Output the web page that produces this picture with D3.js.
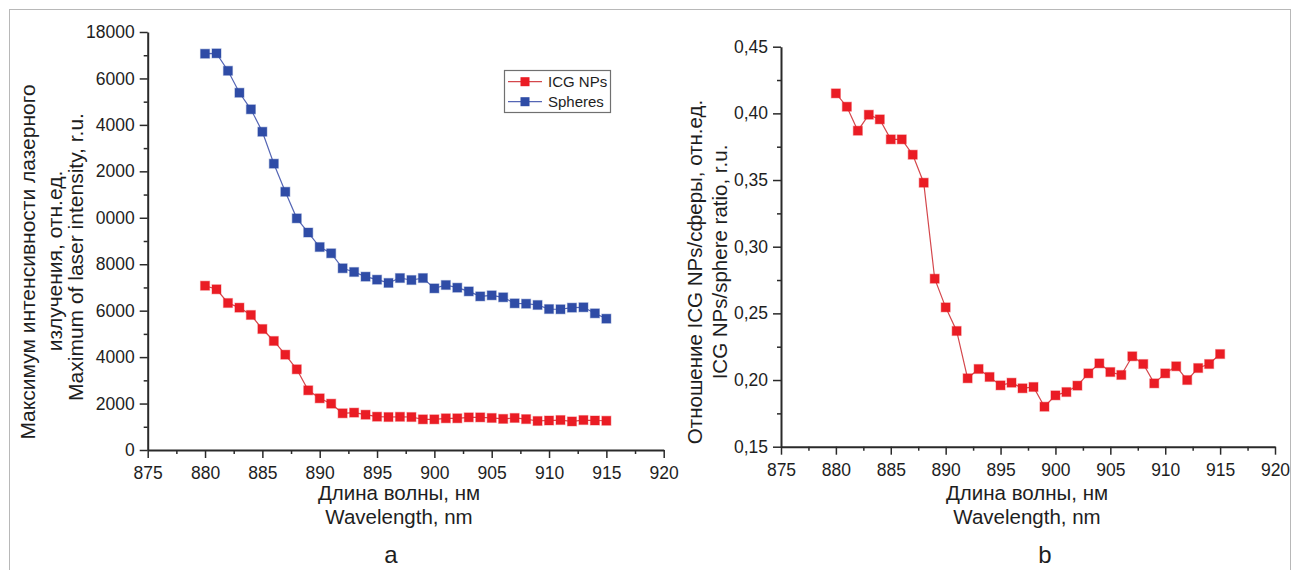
<!DOCTYPE html>
<html>
<head>
<meta charset="utf-8">
<script src="https://cdn.jsdelivr.net/npm/d3@7"></script>
<style>
  html, body { margin: 0; padding: 0; background: #fff; }
  svg { display: block; }
  text { font-family: "Liberation Sans", Arial, sans-serif; fill: #1e1e1e; }
</style>
</head>
<body>
<svg id="fig" width="1296" height="570"></svg>
<script>
// Wavelength grid, nm
const wavelengths = d3.range(880, 916);

// Panel a: maximum of laser intensity, r.u.
const icgNPs = [7075, 6920, 6330, 6130, 5815, 5210, 4695, 4105, 3475, 2570,
  2225, 1995, 1580, 1610, 1520, 1435, 1420, 1430, 1420, 1320,
  1320, 1365, 1365, 1405, 1405, 1380, 1340, 1380, 1330, 1250,
  1270, 1290, 1230, 1290, 1270, 1260];
const spheres = [17065, 17080, 16330, 15385, 14670, 13705, 12330, 11120, 9975, 9365,
  8740, 8470, 7825, 7665, 7465, 7335, 7195, 7405, 7320, 7405,
  6960, 7105, 6990, 6830, 6615, 6660, 6575, 6315, 6300, 6245,
  6070, 6060, 6130, 6145, 5885, 5655];

// Panel b: ICG NPs / sphere ratio, r.u.
const ratio = [0.415, 0.405, 0.387, 0.399, 0.3955, 0.3805, 0.3805, 0.369, 0.348, 0.276,
  0.2545, 0.2368, 0.2013, 0.2083, 0.2023, 0.196, 0.198, 0.1938, 0.1948, 0.180,
  0.1885, 0.191, 0.1958, 0.205, 0.2125, 0.206, 0.2038, 0.2178, 0.212, 0.1975,
  0.205, 0.2103, 0.200, 0.209, 0.212, 0.2195];

// Tick values and their printed labels
const xTicks = [875, 880, 885, 890, 895, 900, 905, 910, 915, 920];
const xTickLabels = ["875", "880", "885", "890", "895", "900", "905", "910", "915", "920"];
const yTicksA = [0, 2000, 4000, 6000, 8000, 10000, 12000, 14000, 16000, 18000];
const yTickLabelsA = ["0", "2000", "4000", "6000", "8000", "0000", "2000", "4000", "6000", "18000"];
const yTicksB = [0.15, 0.20, 0.25, 0.30, 0.35, 0.40, 0.45];
const yTickLabelsB = ["0,15", "0,20", "0,25", "0,30", "0,35", "0,40", "0,45"];

const seriesNames = ["ICG NPs", "Spheres"];
const RED = "#ea1c24", RED_LINE = "#d4474c";
const BLUE = "#2f4ca6", BLUE_LINE = "#5566b5";
const AXIS = "#2a2a2a";

const svg = d3.select("#fig");

// outer frame
svg.append("rect").attr("x", 9.5).attr("y", 9.5).attr("width", 1281).attr("height", 600)
  .attr("fill", "none").attr("stroke", "#b8b8b8").attr("stroke-width", 1);

function drawAxes(g, x, y, yTicks, yLabels, minorY) {
  const minorX = d3.range(877.5, 920, 5);
  // minor ticks
  g.append("g").attr("transform", `translate(0,${y.range()[0]})`)
    .call(d3.axisBottom(x).tickValues(minorX).tickSize(4).tickSizeOuter(0).tickFormat(""))
    .call(s => s.select(".domain").remove())
    .call(s => s.selectAll("line").attr("stroke", AXIS).attr("stroke-width", 1.5));
  g.append("g").attr("transform", `translate(${x.range()[0]},0)`)
    .call(d3.axisLeft(y).tickValues(minorY).tickSize(4).tickSizeOuter(0).tickFormat(""))
    .call(s => s.select(".domain").remove())
    .call(s => s.selectAll("line").attr("stroke", AXIS).attr("stroke-width", 1.5));
  // major ticks + labels
  const gx = g.append("g").attr("transform", `translate(0,${y.range()[0]})`)
    .call(d3.axisBottom(x).tickValues(xTicks).tickSize(8).tickSizeOuter(0).tickPadding(9)
      .tickFormat((d, i) => xTickLabels[i]));
  const gy = g.append("g").attr("transform", `translate(${x.range()[0]},0)`)
    .call(d3.axisLeft(y).tickValues(yTicks).tickSize(8).tickSizeOuter(0).tickPadding(5)
      .tickFormat((d, i) => yLabels[i]));
  [gx, gy].forEach(a => {
    a.select(".domain").attr("stroke", AXIS).attr("stroke-width", 2);
    a.selectAll(".tick line").attr("stroke", AXIS).attr("stroke-width", 1.5);
    a.selectAll(".tick text").attr("font-size", 17.5).attr("fill", "#1e1e1e")
      .style("font-family", "'Liberation Sans', Arial, sans-serif");
  });
}

function drawSeries(g, x, y, values, lineColor, markColor) {
  const line = d3.line().x((d, i) => x(wavelengths[i])).y(d => y(d));
  g.append("path").datum(values).attr("d", line)
    .attr("fill", "none").attr("stroke", lineColor).attr("stroke-width", 1.2);
  const s = 9;
  g.selectAll(null).data(values).join("rect")
    .attr("x", (d, i) => x(wavelengths[i]) - s / 2)
    .attr("y", d => y(d) - s / 2)
    .attr("width", s).attr("height", s)
    .attr("fill", markColor)
    .attr("stroke", markColor).attr("stroke-opacity", 0.35).attr("stroke-width", 1.2);
}

function vTitle(text, x, yc, size) {
  svg.append("text").attr("transform", `translate(${x},${yc}) rotate(-90)`)
    .attr("text-anchor", "middle").attr("font-size", size).text(text);
}
function hTitle(text, xc, y, size) {
  svg.append("text").attr("x", xc).attr("y", y)
    .attr("text-anchor", "middle").attr("font-size", size).text(text);
}

// ---------- panel a ----------
const xA = d3.scaleLinear().domain([875, 920]).range([147.7, 663.7]);
const yA = d3.scaleLinear().domain([0, 18000]).range([450, 32]);
const gA = svg.append("g");
drawAxes(gA, xA, yA, yTicksA, yTickLabelsA, d3.range(1000, 18000, 2000));
drawSeries(gA, xA, yA, spheres, BLUE_LINE, BLUE);
drawSeries(gA, xA, yA, icgNPs, RED_LINE, RED);

vTitle("Максимум интенсивности лазерного", 35, 262, 21);
vTitle("излучения, отн.ед.", 62, 261, 21);
vTitle("Maximum of laser intensity, r.u.", 83, 257, 21);
hTitle("Длина волны, нм", 399, 500, 20.5);
hTitle("Wavelength, nm", 399, 524, 20.5);
hTitle("a", 391, 563, 24);

// legend
const leg = svg.append("g");
leg.append("rect").attr("x", 504.5).attr("y", 70.5).attr("width", 106).attr("height", 42)
  .attr("fill", "#fff").attr("stroke", "#707070").attr("stroke-width", 1.2);
[[RED_LINE, RED], [BLUE_LINE, BLUE]].forEach(([lc, mc], i) => {
  const cy = 81.7 + i * 20;
  leg.append("line").attr("x1", 508).attr("x2", 542).attr("y1", cy).attr("y2", cy)
    .attr("stroke", lc).attr("stroke-width", 1.2);
  leg.append("rect").attr("x", 525 - 4.5).attr("y", cy - 4.5).attr("width", 9).attr("height", 9)
    .attr("fill", mc);
  leg.append("text").attr("x", 548).attr("y", cy + 5.5).attr("font-size", 15)
    .text(seriesNames[i]);
});

// ---------- panel b ----------
const xB = d3.scaleLinear().domain([875, 920]).range([781, 1275]);
const yB = d3.scaleLinear().domain([0.15, 0.45]).range([446.7, 46.7]);
const gB = svg.append("g");
drawAxes(gB, xB, yB, yTicksB, yTickLabelsB, d3.range(0.175, 0.45, 0.05));
drawSeries(gB, xB, yB, ratio, RED_LINE, RED);

vTitle("Отношение ICG NPs/сферы, отн.ед.", 702, 272, 20.5);
vTitle("ICG NPs/sphere ratio, r.u.", 727, 262, 20.5);
hTitle("Длина волны, нм", 1027, 500, 20.5);
hTitle("Wavelength, nm", 1027, 524, 20.5);
hTitle("b", 1045, 563, 24);
</script>
</body>
</html>
